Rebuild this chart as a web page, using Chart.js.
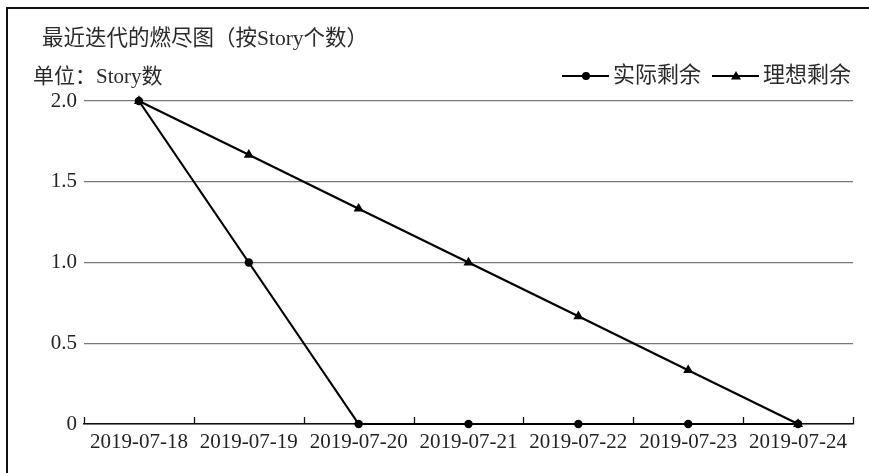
<!DOCTYPE html>
<html>
<head>
<meta charset="utf-8">
<script src="https://cdn.jsdelivr.net/npm/chart.js@4"></script>
<style>
  html, body { margin: 0; padding: 0; background: #fff; }
  #wrap { position: relative; width: 869px; height: 473px; overflow: hidden; }
  #frame { position: absolute; left: 6px; top: 7px; right: -10px; bottom: -10px;
           border-left: 2px solid #111; border-top: 2px solid #111; pointer-events: none; }
</style>
</head>
<body>
<div id="wrap">
  <canvas id="burnChart" width="869" height="473"></canvas>
  <div id="frame"></div>
</div>
<script>
const days = ['2019-07-18', '2019-07-19', '2019-07-20', '2019-07-21', '2019-07-22', '2019-07-23', '2019-07-24'];
const actualLeft = [2, 1, 0, 0, 0, 0, 0];
const idealLeft = [2, 1.667, 1.333, 1, 0.667, 0.333, 0];
const seriesNames = ['实际剩余', '理想剩余'];
const chartTitle = '最近迭代的燃尽图（按Story个数）';
const unitLabel = '单位：Story数';

const FONT = '"Liberation Serif", "Noto Sans CJK SC", serif';
Chart.defaults.font.family = FONT;
Chart.defaults.color = '#222';

// title, unit text and the legend drawn in the top strip
const headerPlugin = {
  id: 'header',
  afterDraw(chart) {
    const ctx = chart.ctx;
    ctx.save();
    ctx.fillStyle = '#2a2a2a';
    ctx.textBaseline = 'middle';
    ctx.textAlign = 'left';
    ctx.font = '21.5px ' + FONT;
    ctx.fillText(chartTitle, 42, 39);
    ctx.font = '21px ' + FONT;
    ctx.fillText(unitLabel, 33, 77);

    // legend: line with marker, then name
    const items = [
      { x: 562, name: seriesNames[0], marker: 'circle' },
      { x: 712, name: seriesNames[1], marker: 'triangle' }
    ];
    const y = 76;
    items.forEach(it => {
      ctx.strokeStyle = '#000';
      ctx.lineWidth = 2.2;
      ctx.beginPath();
      ctx.moveTo(it.x, y);
      ctx.lineTo(it.x + 47, y);
      ctx.stroke();
      const cx = it.x + 24;
      ctx.fillStyle = '#000';
      ctx.beginPath();
      if (it.marker === 'circle') {
        ctx.arc(cx, y, 4, 0, Math.PI * 2);
      } else {
        ctx.moveTo(cx, y - 5);
        ctx.lineTo(cx + 5, y + 3.5);
        ctx.lineTo(cx - 5, y + 3.5);
        ctx.closePath();
      }
      ctx.fill();
      ctx.fillStyle = '#2a2a2a';
      ctx.font = '22px ' + FONT;
      ctx.fillText(it.name, it.x + 51, y);
    });
    ctx.restore();
  }
};

// small tick marks pointing up from the x axis, between categories
const innerTicks = {
  id: 'innerTicks',
  afterDraw(chart) {
    const { ctx, chartArea } = chart;
    const n = days.length;
    const step = (chartArea.right - chartArea.left) / n;
    ctx.save();
    ctx.strokeStyle = '#111';
    ctx.lineWidth = 1.3;
    ctx.beginPath();
    for (let k = 0; k <= n; k++) {
      const x = Math.round(chartArea.left + k * step) + 0.5;
      ctx.moveTo(x, chartArea.bottom);
      ctx.lineTo(x, chartArea.bottom - 7);
    }
    ctx.stroke();
    ctx.restore();
  }
};

new Chart(document.getElementById('burnChart').getContext('2d'), {
  type: 'line',
  data: {
    labels: days,
    datasets: [{
      label: seriesNames[0],
      data: actualLeft,
      borderColor: '#000',
      backgroundColor: '#000',
      borderWidth: 2.2,
      pointStyle: 'circle',
      pointRadius: 4.2,
      pointBorderWidth: 0,
      tension: 0,
      clip: false
    }, {
      label: seriesNames[1],
      data: idealLeft,
      borderColor: '#000',
      backgroundColor: '#000',
      borderWidth: 2.2,
      pointStyle: 'triangle',
      pointRadius: 5.8,
      pointBorderWidth: 0,
      tension: 0,
      clip: false
    }]
  },
  options: {
    responsive: false,
    animation: false,
    layout: { padding: { top: 101, right: 16, left: 0, bottom: 0 } },
    plugins: {
      legend: { display: false },
      title: { display: false },
      tooltip: { enabled: false }
    },
    scales: {
      x: {
        offset: true,
        grid: { display: false, drawTicks: false },
        border: { display: true, color: '#111', width: 1.5 },
        ticks: {
          padding: 6,
          maxRotation: 0,
          autoSkip: false,
          color: '#222',
          font: { size: 21 }
        },
        afterFit: (scale) => { scale.height = 49; }
      },
      y: {
        min: 0,
        max: 2,
        grid: { color: '#777', lineWidth: 1.3, drawTicks: false },
        border: { display: false },
        ticks: {
          stepSize: 0.5,
          padding: 7,
          color: '#222',
          font: { size: 21 },
          callback: (v) => v === 0 ? '0' : v.toFixed(1)
        },
        afterFit: (scale) => { scale.width = 84; }
      }
    }
  },
  plugins: [headerPlugin, innerTicks]
});
</script>
</body>
</html>
